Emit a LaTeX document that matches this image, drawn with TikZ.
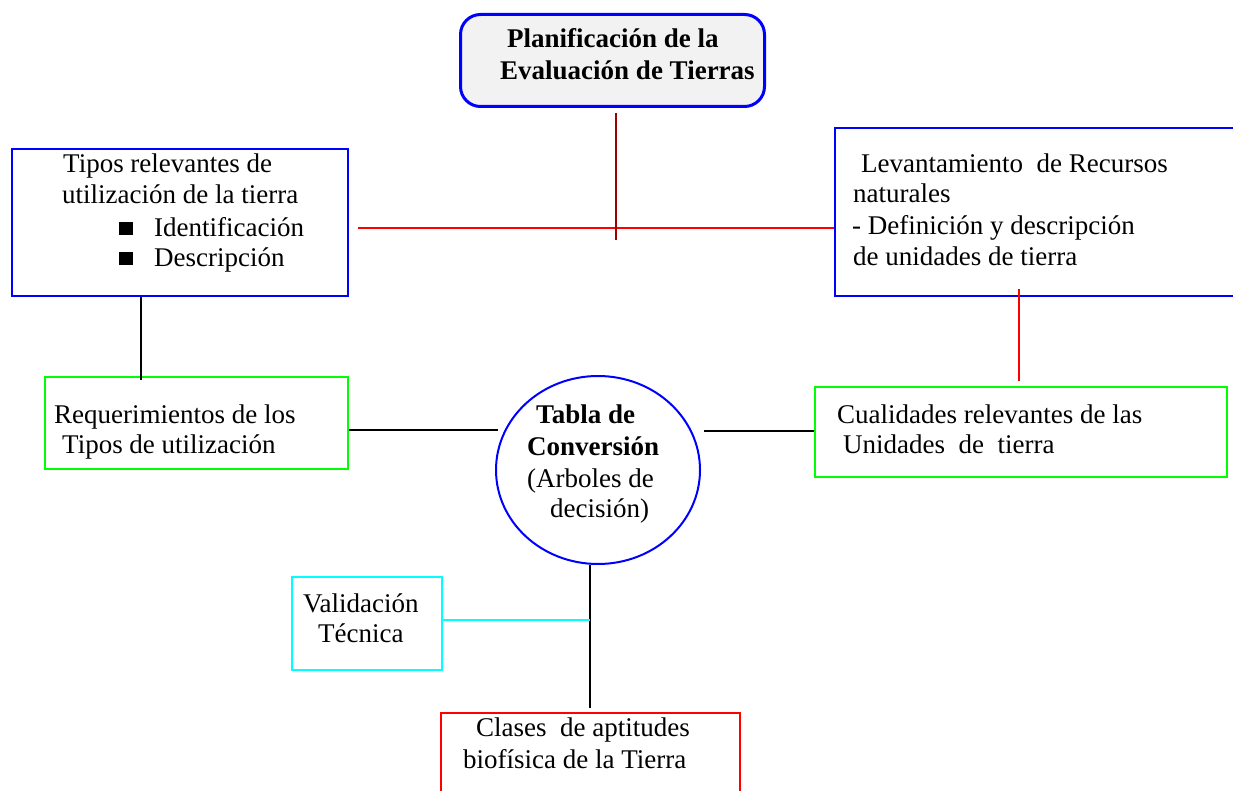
\documentclass[tikz,border=0pt]{standalone}
\usepackage{fontspec}
\setmainfont{Liberation Serif}
\usetikzlibrary{shapes.geometric,calc}
\definecolor{dred}{RGB}{160,0,0}
\definecolor{topfill}{RGB}{242,242,242}
\definecolor{cyn}{RGB}{0,255,255}
\definecolor{grn}{RGB}{0,255,0}
\definecolor{blu}{RGB}{0,0,255}
\definecolor{rd}{RGB}{255,0,0}
\begin{document}
\begin{tikzpicture}[x=1pt,y=-1pt,
  bx/.style={draw, line width=2pt, inner sep=0pt, anchor=north west},
  tx/.style={anchor=base west, inner sep=0pt, font=\fontsize{27}{32}\selectfont},
  bt/.style={anchor=base west, inner sep=0pt, font=\fontsize{27}{32}\selectfont\bfseries},
  ln/.style={line width=2pt}]
\clip (0,0) rectangle (1233,791);
\fill[white] (0,0) rectangle (1233,791);

% boxes
\node[bx, draw=blu, line width=3pt, fill=topfill, rounded corners=20pt,
      minimum width=304pt, minimum height=92pt] (T) at (459,13) {};
\node[bx, draw=blu, minimum width=336pt, minimum height=147pt] (L) at (11,148) {};
\node[bx, draw=blu, minimum width=420pt, minimum height=168pt] (R) at (834,127) {};
\node[bx, draw=grn, minimum width=303pt, minimum height=92pt] (GL) at (44,376) {};
\node[bx, draw=grn, minimum width=412pt, minimum height=90pt] (GR) at (814,386) {};
\node[draw=blu, line width=2pt, ellipse, inner sep=0pt,
      minimum width=204pt, minimum height=188pt] (C) at (598,470) {};
\node[bx, draw=cyn, minimum width=150pt, minimum height=93pt] (V) at (291,576) {};
\node[bx, draw=rd, minimum width=299pt, minimum height=100pt] (K) at (440,712) {};

% texts
\node[bt] (t1) at (507,48) {Planificación de la};
\node[bt] (t2) at (500,80) {Evaluación de Tierras};

\node[tx] (l1) at (63,173) {Tipos relevantes de};
\node[tx] (l2) at (62,204) {utilización de la tierra};
\node[tx] (l3) at (119,237) {\rule[2pt]{14pt}{13pt}\hspace{21pt}Identificación};
\node[tx] (l4) at (119,267) {\rule[2pt]{14pt}{13pt}\hspace{21pt}Descripción};

\node[tx] (r1) at (861,173) {Levantamiento\ \ de Recursos};
\node[tx] (r2) at (853,203) {naturales};
\node[tx] (r3) at (852,235) {- Definición y descripción};
\node[tx] (r4) at (853,266) {de unidades de tierra};

\node[tx] (g1) at (54,423) {Requerimientos de los};
\node[tx] (g2) at (62,453) {Tipos de utilización};

\node[tx] (h1) at (837,423) {Cualidades relevantes de las};
\node[tx] (h2) at (843,453) {Unidades\ \ de\ \ tierra};

\node[bt] (c1) at (536,423) {Tabla de};
\node[bt] (c2) at (527,455) {Conversión};
\node[tx] (c3) at (527,487) {(Arboles de};
\node[tx] (c4) at (550,517) {decisión)};

\node[tx] (v1) at (303,612) {Validación};
\node[tx] (v2) at (318,642) {Técnica};

\node[tx] (k1) at (476,736) {Clases\ \ de aptitudes};
\node[tx] (k2) at (463,768) {biofísica de la Tierra};

% connectors
\coordinate (hL) at (358,228);
\coordinate (jx) at (616,228);
\draw[ln, rd] (hL) -- (hL -| R.west);
\draw[ln, dred] ($(T.south -| jx)+(0,5)$) -- ($(jx)+(0,12)$);

\coordinate (rx) at (1019,0);
\draw[ln, rd] ($(R.south -| rx)+(0,-8)$) -- ($(GR.north -| rx)+(0,-5)$);

\coordinate (lx) at (141,0);
\draw[ln] (L.south -| lx) -- ($(GL.north -| lx)+(0,4)$);

\coordinate (y430) at (0,430);
\draw[ln] (GL.east |- y430) -- (498,430);
\draw[ln] (704,431) -- (GR.west |- 0,431);

\coordinate (cx) at (590,0);
\draw[ln] (C.south -| cx) -- ($(K.north -| cx)+(0,-4)$);
\coordinate (vj) at (590,620);
\draw[ln, cyn] (V.east |- vj) -- (vj);
\end{tikzpicture}
\end{document}
